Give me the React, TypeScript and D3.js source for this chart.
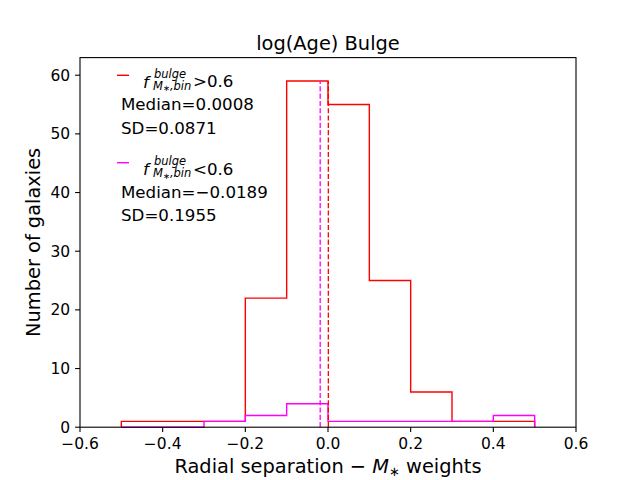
import * as d3 from "d3";

// histogram bins (radial separation) and counts
const binEdges = [-0.5, -0.4, -0.3, -0.2, -0.1, 0.0, 0.1, 0.2, 0.3, 0.4, 0.5];
const countsHigh = [1, 1, 1, 22, 59, 55, 25, 6, 1, 1];
const countsLow = [0, 0, 1, 2, 4, 1, 1, 1, 1, 2];
const medians = [0.0008, -0.0189];
const sds = [0.0871, 0.1955];
const seriesCuts = [">0.6", "<0.6"];
const seriesColors = ["#ff0000", "#ff00ff"];
const xTicks = [-0.6, -0.4, -0.2, 0.0, 0.2, 0.4, 0.6];
const yTicks = [0, 10, 20, 30, 40, 50, 60];

const W = 640;
const H = 480;
const margin = { left: 80, right: 64, top: 57.6, bottom: 52.8 };
const FONT = "DejaVu Sans, sans-serif";

const x = d3.scaleLinear().domain([-0.6, 0.6]).range([margin.left, W - margin.right]);
const y = d3.scaleLinear().domain([0, 63]).range([H - margin.bottom, margin.top]);

const fmtTick = (v: number) => d3.format(".1f")(v).replace("-", "\u2212");
const fmtStat = (v: number) => d3.format(".4f")(v).replace("-", "\u2212");

function stepPath(counts: number[]) {
  const pts: [number, number][] = [[binEdges[0], 0]];
  counts.forEach((c, i) => {
    pts.push([binEdges[i], c]);
    pts.push([binEdges[i + 1], c]);
  });
  pts.push([binEdges[binEdges.length - 1], 0]);
  return d3.line<[number, number]>()
    .x((d) => x(d[0]))
    .y((d) => y(d[1]))(pts)!;
}

export default function App() {
  const x0 = margin.left;
  const x1 = W - margin.right;
  const y0 = H - margin.bottom;
  const y1 = margin.top;
  const series = [countsHigh, countsLow];
  const medianTop = d3.max(countsHigh)!;

  return (
    <div style={{ position: "absolute", left: 0, top: 0 }}>
      <svg width={W} height={H} style={{ display: "block", background: "#fff" }} fontFamily={FONT}>
        {/* histograms */}
        {series.map((c, i) => (
          <path key={i} d={stepPath(c)} fill="none" stroke={seriesColors[i]} strokeWidth={1.4} strokeLinejoin="miter" />
        ))}

        {/* medians */}
        {medians.map((m, i) => (
          <line
            key={i}
            x1={x(m)}
            x2={x(m)}
            y1={y(0)}
            y2={y(medianTop)}
            stroke={seriesColors[i]}
            strokeWidth={1.3}
            strokeDasharray="5.1,2.2"
          />
        ))}

        {/* frame */}
        <rect x={x0} y={y1} width={x1 - x0} height={y0 - y1} fill="none" stroke="#000" strokeWidth={1.1} />

        {/* x ticks */}
        {xTicks.map((t) => (
          <g key={t} transform={`translate(${x(t)},${y0})`}>
            <line y1={0} y2={4.9} stroke="#000" strokeWidth={1.1} />
            <text y={21.5} textAnchor="middle" fontSize={15.5}>{fmtTick(t)}</text>
          </g>
        ))}

        {/* y ticks */}
        {yTicks.map((t) => (
          <g key={t} transform={`translate(${x0},${y(t)})`}>
            <line x1={0} x2={-4.9} stroke="#000" strokeWidth={1.1} />
            <text x={-9.8} dy="0.36em" textAnchor="end" fontSize={15.5}>{t}</text>
          </g>
        ))}

        {/* title and labels */}
        <text x={(x0 + x1) / 2} y={49.5} textAnchor="middle" fontSize={19.4}>log(Age) Bulge</text>
        <text x={(x0 + x1) / 2} y={473} textAnchor="middle" fontSize={19.4}>
          Radial separation {"\u2212"} <tspan fontStyle="italic">M</tspan>
          <tspan fontSize={13} dy={3}>{"\u2217"}</tspan>
          <tspan dy={-3}> weights</tspan>
        </text>
        <text transform={`translate(39.5,${(y0 + y1) / 2}) rotate(-90)`} textAnchor="middle" fontSize={19.4}>
          Number of galaxies
        </text>

        {/* legend */}
        {seriesCuts.map((cut, i) => {
          const top = 75.3 + i * 87.4;
          return (
            <g key={cut}>
              <line x1={117} x2={129} y1={top} y2={top} stroke={seriesColors[i]} strokeWidth={1.4} />
              <text x={143} y={top + 12.2} fontSize={16.67}>
                <tspan fontStyle="italic">f</tspan>
              </text>
              <text x={154} y={top + 2.6} fontSize={11.5} fontStyle="italic">bulge</text>
              <text x={153} y={top + 14.6} fontSize={11.5}>
                <tspan fontStyle="italic">M</tspan>
                <tspan fontSize={8.3} dy={1.5}>{"\u2217"}</tspan>
                <tspan dy={-1.5} fontStyle="italic">,bin</tspan>
              </text>
              <text x={193} y={top + 12} fontSize={16.67}>{cut}</text>
              <text x={121} y={top + 34.8} fontSize={16.67}>Median={fmtStat(medians[i])}</text>
              <text x={121} y={top + 58.7} fontSize={16.67}>SD={fmtStat(sds[i])}</text>
            </g>
          );
        })}
      </svg>
    </div>
  );
}
